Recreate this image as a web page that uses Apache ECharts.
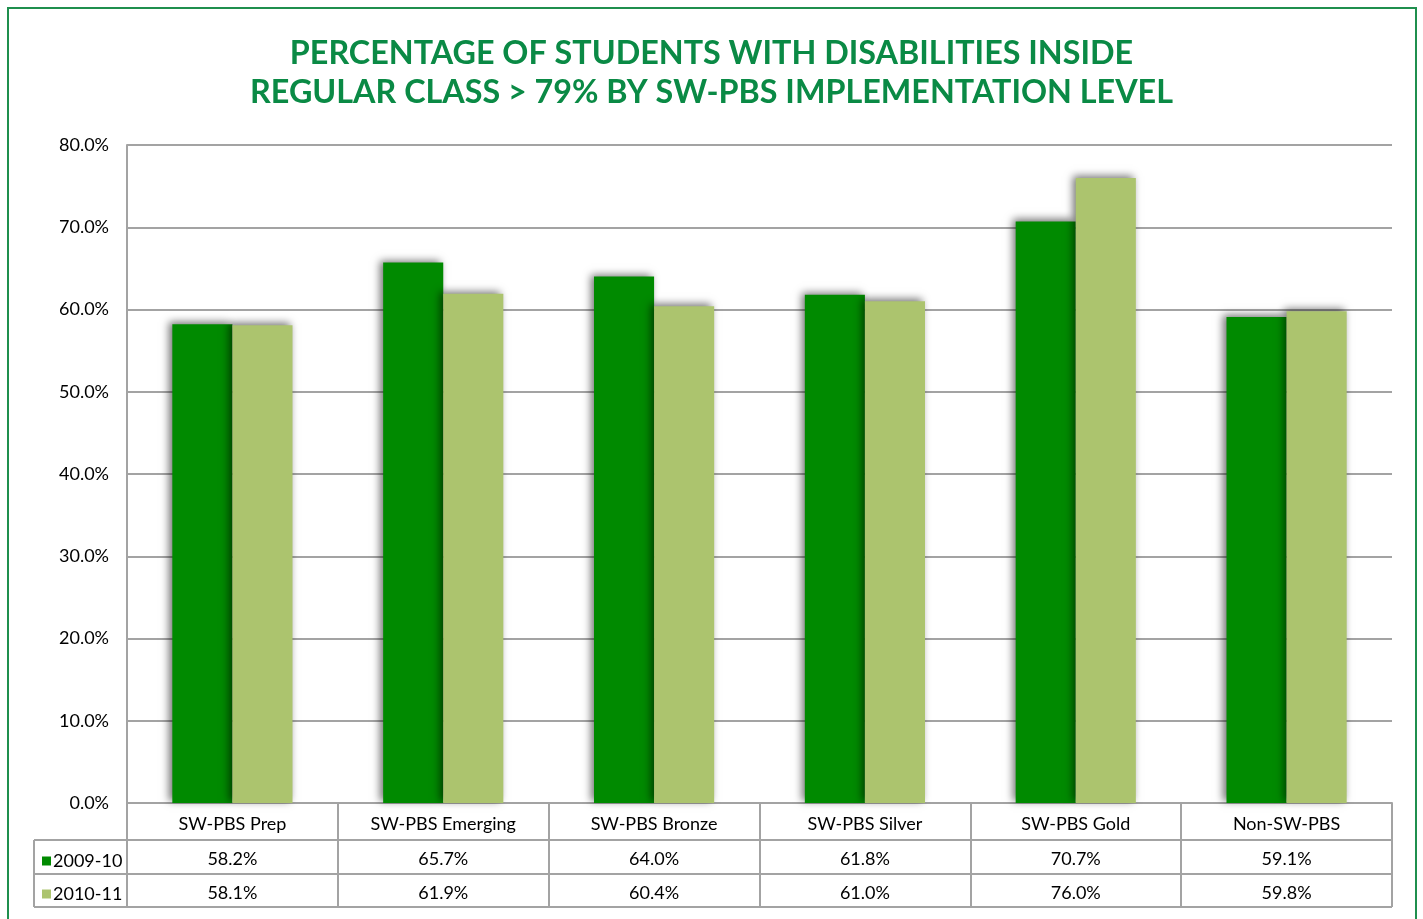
<!DOCTYPE html>
<html><head><meta charset="utf-8">
<script src="https://cdn.jsdelivr.net/npm/echarts@6/dist/echarts.min.js"></script>
<style>html,body{margin:0;padding:0;background:#fff}#c{width:1423px;height:919px}</style>
</head><body><div id="c"></div>
<script>
const categories = ['SW-PBS Prep','SW-PBS Emerging','SW-PBS Bronze','SW-PBS Silver','SW-PBS Gold','Non-SW-PBS'];
const seriesNames = ['2009-10','2010-11'];
const values2009 = [58.2, 65.7, 64.0, 61.8, 70.7, 59.1];
const values2010 = [58.1, 61.9, 60.4, 61.0, 76.0, 59.8];
const yTicks = [0,10,20,30,40,50,60,70,80];

const colors = ['#008a00', '#acc46e'];
const font = 'Lato, "Noto Sans", sans-serif';
const gridColor = '#a3a3a3';

const chart = echarts.init(document.getElementById('c'), null, {renderer:'canvas'});
const shadow = {shadowBlur: 8, shadowColor: 'rgba(0,0,0,0.55)', shadowOffsetX: -3, shadowOffsetY: -2};

const tableLines = [];
[840, 874, 907].forEach(y => tableLines.push({type:'line', shape:{x1:34, y1:y, x2:1392, y2:y}, style:{stroke:gridColor, lineWidth:2}, silent:true}));
tableLines.push({type:'line', shape:{x1:34, y1:840, x2:34, y2:907}, style:{stroke:gridColor, lineWidth:2}, silent:true});

chart.setOption({
  animation: false,
  title: {
    text: 'PERCENTAGE OF STUDENTS WITH DISABILITIES INSIDE\nREGULAR CLASS > 79% BY SW-PBS IMPLEMENTATION LEVEL',
    left: 'center', top: 29,
    textStyle: {color:'#0a8a45', fontFamily: font, fontWeight: 'bold', fontSize: 32.3, lineHeight: 39}
  },
  legend: {
    data: seriesNames, orient: 'vertical', left: 37, top: 847, itemGap: 15,
    icon: 'rect', itemWidth: 9, itemHeight: 9,
    textStyle: {fontFamily: font, fontSize: 18, color: '#000', padding:[7,0,0,-3]},
    selectedMode: false
  },
  grid: {left: 127, right: 31, top: 145, bottom: 116},
  xAxis: {
    type: 'category', data: categories,
    axisLine: {show: true, lineStyle: {color: gridColor, width: 2}},
    axisTick: {show: true, inside: false, length: 104, lineStyle: {color: gridColor, width: 2}},
    axisLabel: {
      margin: 4, interval: 0, fontFamily: font, fontSize: 18, color: '#000', lineHeight: 34.5,
      formatter: (v, i) => v + '\n' + values2009[i].toFixed(1) + '%\n' + values2010[i].toFixed(1) + '%'
    }
  },
  yAxis: {
    type: 'value', min: yTicks[0], max: yTicks[yTicks.length-1], interval: 10,
    axisLine: {show: true, lineStyle: {color: gridColor, width: 2}},
    axisTick: {show: false},
    splitLine: {lineStyle: {color: gridColor, width: 2}},
    axisLabel: {fontFamily: font, fontSize: 18, color: '#000', margin: 18, formatter: v => v.toFixed(1) + '%'}
  },
  series: [
    {name: seriesNames[0], type: 'bar', data: values2009, barGap: '0%', barCategoryGap: '43%', itemStyle: Object.assign({color: colors[0]}, shadow)},
    {name: seriesNames[1], type: 'bar', data: values2010, barGap: '0%', barCategoryGap: '43%', itemStyle: Object.assign({color: colors[1]}, shadow)}
  ],
  graphic: [
    {type:'rect', shape:{x:8, y:8, width:1408, height:930}, style:{fill:'none', stroke:'#1f8f4e', lineWidth:2}, silent:true}
  ].concat(tableLines)
});
</script></body></html>
